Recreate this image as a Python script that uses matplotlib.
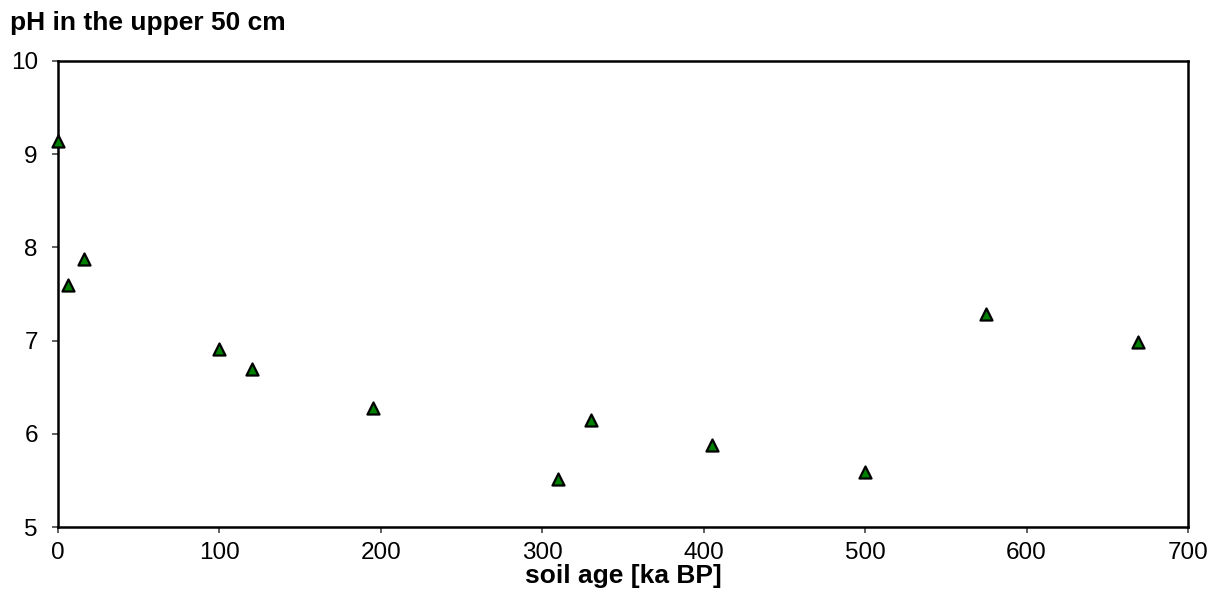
import matplotlib.pyplot as plt

plt.rcParams['font.family'] = ['Liberation Sans', 'DejaVu Sans']

# soil age [ka BP] and pH in the upper 50 cm
soil_age = [0, 6, 16, 100, 120, 195, 310, 330, 405, 500, 575, 669]
ph_values = [9.14, 7.60, 7.88, 6.91, 6.70, 6.28, 5.52, 6.15, 5.88, 5.59, 7.28, 6.99]

fig = plt.figure(figsize=(12.1, 5.99), dpi=100)
ax = fig.add_axes([0.0479, 0.1202, 0.9339, 0.778])

ax.scatter(soil_age, ph_values, marker='^', s=75, color='#008000',
           edgecolors='black', linewidths=1.6, zorder=3, clip_on=False)

ax.set_xlim(0, 700)
ax.set_ylim(5, 10)
ax.set_xticks(range(0, 701, 100))
ax.set_yticks(range(5, 11))
ax.tick_params(direction='out', length=4.5, width=1.2, labelsize=17.5, color='#444444')
ax.tick_params(axis='x', pad=6)
ax.tick_params(axis='y', pad=10)
for s in ax.spines.values():
    s.set_linewidth(1.8)

ax.set_xlabel('soil age [ka BP]', fontsize=19, fontweight='bold', labelpad=0)
fig.text(0.008, 0.962, 'pH in the upper 50 cm', fontsize=19, fontweight='bold',
         ha='left', va='center')

fig.savefig('out.png', dpi=100)
